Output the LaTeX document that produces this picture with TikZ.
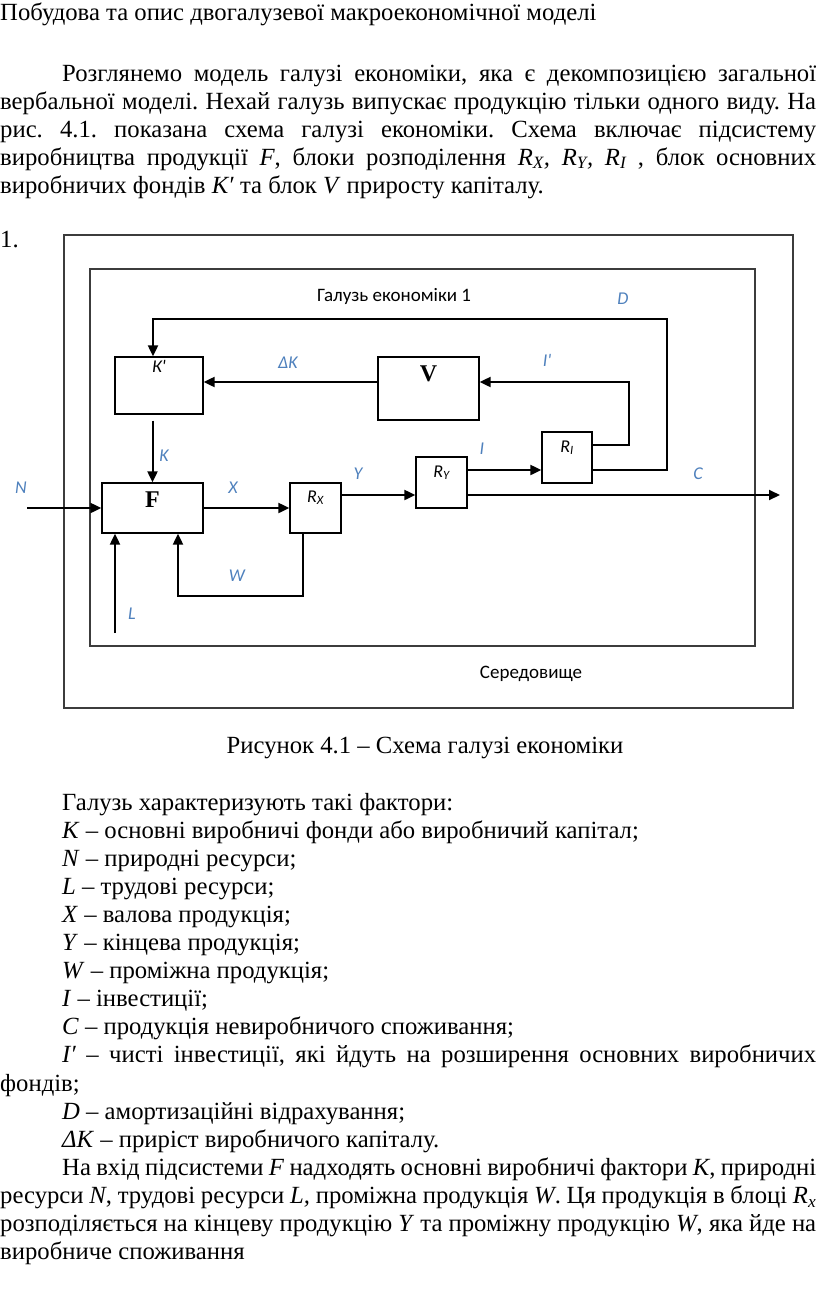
\documentclass[tikz,border=0pt]{standalone}
\usepackage{fontspec}
\setmainfont{Liberation Serif}
\newfontfamily\calibri{Carlito}
\usetikzlibrary{arrows.meta,calc}
\definecolor{lblue}{RGB}{79,129,189}
\definecolor{framec}{RGB}{60,60,60}
\newcommand{\jline}[2]{\makebox[#1pt][s]{#2}}
\frenchspacing
\begin{document}
\begin{tikzpicture}[x=1pt,y=-1pt,
  txt/.style={anchor=base west,inner sep=0pt,font=\fontsize{24.7}{28}\selectfont},
  blk/.style={draw=black,line width=1.3pt,inner sep=0pt,minimum width=#1},
  arr/.style={line width=2pt,-{Triangle[length=11pt,width=10pt]}},
  frm/.style={draw=framec,line width=1.6pt},
  lab/.style={anchor=base,font=\calibri\itshape\fontsize{18}{20}\selectfont,text=lblue,inner sep=0pt},
  blab/.style={anchor=base,font=\calibri\itshape\fontsize{18}{20}\selectfont,inner sep=0pt},
  bold/.style={anchor=base,font=\bfseries\fontsize{24}{26}\selectfont,inner sep=0pt},
  plain/.style={anchor=base west,font=\calibri\fontsize{19}{22}\selectfont,inner sep=0pt}]
\fill[white] (0,0) rectangle (816,1294);
\useasboundingbox (0,0) rectangle (816,1294);

% ---------- text above ----------
\node[txt] (title) at (0,20) {Побудова та опис двогалузевої макроекономічної моделі};
\node[txt] (p1) at (62,81) {\jline{754}{Розглянемо модель галузі економіки, яка є декомпозицією загальної}};
\node[txt] (p2) at (0,109) {\jline{816}{вербальної моделі. Нехай галузь випускає продукцію тільки одного виду. На}};
\node[txt] (p3) at (0,137) {\jline{816}{рис. 4.1. показана схема галузі економіки. Схема включає підсистему}};
\node[txt] (p4) at (0,165) {\jline{816}{виробництва продукції \textit{F}, блоки розподілення \textit{R\textsubscript{X}, R\textsubscript{Y}, R\textsubscript{I}} , блок основних}};
\node[txt] (p5) at (0,193) {виробничих фондів \textit{К′} та блок \textit{V} приросту капіталу.};
\node[txt] (one) at (0,247) {1.};

% ---------- diagram ----------
\node[frm,inner sep=0pt,minimum width=729pt,minimum height=473pt] (outer) at (428.5,471.5) {};
\node[frm,inner sep=0pt,minimum width=665pt,minimum height=377pt] (inner) at (422.5,457.5) {};
\node[plain] (galuz) at (317,301) {Галузь економіки 1};
\node[anchor=base,font=\calibri\fontsize{19}{22}\selectfont,inner sep=0pt] (sered) at (531,678) {Середовище};

\node[blk=88pt,minimum height=57pt] (Kp) at (159,385.5) {};
\node[blk=101pt,minimum height=63pt] (V) at (428.5,388.5) {};
\node[blk=101pt,minimum height=50pt] (F) at (152.5,508) {};
\node[blk=51pt,minimum height=50pt] (RX) at (315.5,508) {};
\node[blk=51pt,minimum height=51pt] (RY) at (441.5,482.5) {};
\node[blk=50pt,minimum height=51pt] (RI) at (567,457.5) {};

\node[blab] (KpL) at ([yshift=-16pt]Kp.north) {К\textquotesingle};
\node[bold] (VL) at ([yshift=-25pt]V.north) {V};
\node[bold] (FL) at ([yshift=-25pt]F.north) {F};
\node[blab] (RXL) at ([yshift=-20pt]RX.north) {R\textsubscript{X}};
\node[blab] (RYL) at ([yshift=-21pt]RY.north) {R\textsubscript{Y}};
\node[blab] (RIL) at ([yshift=-21pt]RI.north) {R\textsubscript{I}};

\coordinate (nin) at (27,508);
\coordinate (lin) at (115,633);
\coordinate (cout) at (780,495);
\coordinate (d1) at (667,470);
\coordinate (d2) at (667,319);
\coordinate (d3) at (153,319);
\coordinate (i1) at (629,445);
\coordinate (i2) at (629,382);
\coordinate (w1) at (303,596);
\coordinate (w2) at (178,596);

\draw[arr] (nin) -- (F.west);
\draw[arr] (F.east) -- (RX.west);
\draw[arr] ([yshift=13pt]RX.east) -- ([yshift=13pt]RX.east -| RY.west);
\draw[arr] ([yshift=12.5pt]RY.east) -- ([yshift=-12.5pt]RI.west);
\draw[arr] ([yshift=-12.5pt]RY.east) -- (cout);
\draw[arr] ([yshift=-12.5pt]RI.east) -- (d1) -- (d2) -- (d3) -- (d3 |- Kp.north);
\draw[arr] ([yshift=12.5pt]RI.east) -- (i1) -- (i2) -- (i2 -| V.east);
\draw[arr] ([yshift=6.5pt]V.west) -- ([yshift=6.5pt]V.west -| Kp.east);
\draw[arr,shorten <=6pt] (Kp.south -| F.north) -- (F.north);
\draw[arr] (RX.south -| w1) -- (w1) -- (w2) -- (w2 |- F.south);
\draw[arr] (lin) -- (lin |- F.south);

\node[lab] (lN) at (21,493) {N};
\node[lab] (lK) at (164,461) {K};
\node[lab] (lX) at (233,493) {X};
\node[lab] (lY) at (358,479) {Y};
\node[lab] (lW) at (237,581) {W};
\node[lab] (lL) at (132,619) {L};
\node[lab] (lDK) at (288,368) {ΔK};
\node[lab] (lIp) at (547,366) {I\textquotesingle};
\node[lab] (lI) at (482,454) {I};
\node[lab] (lD) at (623,304) {D};
\node[lab] (lC) at (698,479) {C};

% ---------- text below ----------
\node[anchor=base,inner sep=0pt,font=\fontsize{24.7}{28}\selectfont] (cap) at (425,753) {Рисунок 4.1 – Схема галузі економіки};
\node[txt] (q0) at (62,810) {Галузь характеризують такі фактори:};
\node[txt] (q1) at (62,838.1) {\textit{К} – основні виробничі фонди або виробничий капітал;};
\node[txt] (q2) at (62,866.2) {\textit{N} – природні ресурси;};
\node[txt] (q3) at (62,894.3) {\textit{L} – трудові ресурси;};
\node[txt] (q4) at (62,922.4) {\textit{X} – валова продукція;};
\node[txt] (q5) at (62,950.5) {\textit{Y} – кінцева продукція;};
\node[txt] (q6) at (62,978.6) {\textit{W} – проміжна продукція;};
\node[txt] (q7) at (62,1006.7) {\textit{I} – інвестиції;};
\node[txt] (q8) at (62,1034.8) {\textit{C} – продукція невиробничого споживання;};
\node[txt] (q9) at (62,1062.9) {\jline{754}{\textit{I′} – чисті інвестиції, які йдуть на розширення основних виробничих}};
\node[txt] (q10) at (0,1091) {фондів;};
\node[txt] (q11) at (62,1119.1) {\textit{D} – амортизаційні відрахування;};
\node[txt] (q12) at (62,1147.2) {\textit{ΔK} – приріст виробничого капіталу.};
\node[txt] (q13) at (62,1175.3) {\jline{754}{На вхід підсистеми \textit{F} надходять основні виробничі фактори \textit{К}, природні}};
\node[txt] (q14) at (0,1203.4) {\jline{816}{ресурси \textit{N}, трудові ресурси \textit{L,} проміжна продукція \textit{W}. Ця продукція в блоці \textit{R\textsubscript{x}}}};
\node[txt] (q15) at (0,1231.5) {\jline{816}{розподіляється на кінцеву продукцію \textit{Y} та проміжну продукцію \textit{W}, яка йде на}};
\node[txt] (q16) at (0,1259.6) {виробниче споживання};
\end{tikzpicture}
\end{document}
